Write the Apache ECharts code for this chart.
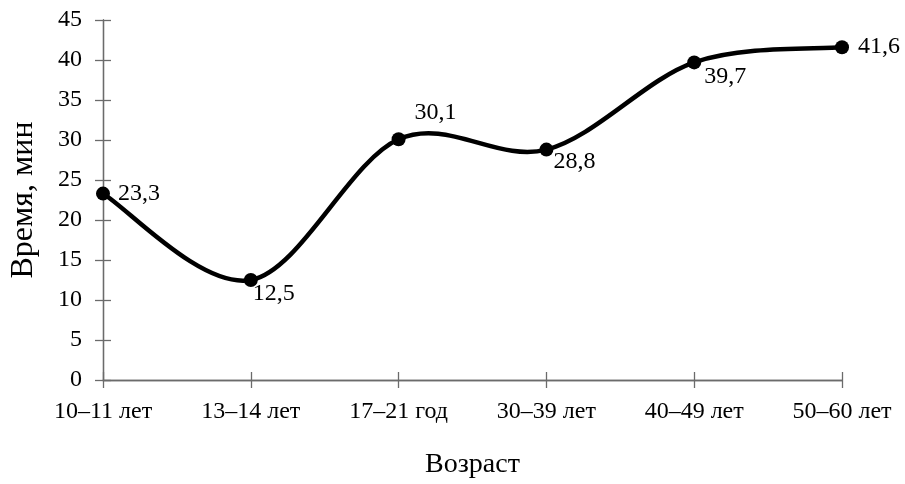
<!DOCTYPE html>
<html>
<head>
<meta charset="utf-8">
<script src="https://cdn.jsdelivr.net/npm/echarts@6/dist/echarts.min.js"></script>
<style>
  html, body { margin: 0; padding: 0; background: #fff; }
  #chart { width: 905px; height: 484px; }
</style>
</head>
<body>
<div id="chart"></div>
<script>
// Age groups and average time (minutes)
const categories = ['10–11 лет', '13–14 лет', '17–21 год', '30–39 лет', '40–49 лет', '50–60 лет'];
const values = [23.3, 12.5, 30.1, 28.8, 39.7, 41.6];
const yTicks = { min: 0, max: 45, interval: 5 };

// Per-point label placement around the markers
const labelOffsets = [[3, 0], [-10, 14], [4, -26], [-5, 12], [-2, 14], [4, 0]];

const FONT = '"Liberation Serif", "Times New Roman", serif';
const AXIS_COLOR = '#6b6b6b';

const chart = echarts.init(document.getElementById('chart'), null, { renderer: 'canvas' });

const baseX = {
  type: 'category',
  data: categories,
  boundaryGap: false,
  axisLine: { lineStyle: { color: AXIS_COLOR, width: 1.3 } },
  axisTick: { alignWithLabel: true, length: 8, lineStyle: { color: AXIS_COLOR, width: 1.3 } },
  splitLine: { show: false }
};
const baseY = {
  type: 'value',
  min: yTicks.min,
  max: yTicks.max,
  interval: yTicks.interval,
  axisLine: { show: true, lineStyle: { color: AXIS_COLOR, width: 1.3 } },
  axisTick: { show: true, length: 8, lineStyle: { color: AXIS_COLOR, width: 1.3 } },
  splitLine: { show: false }
};

// Smooth curve segment i -> i+1 (cardinal spline, tension 1/6 of neighbour span)
function renderSegment(params, api) {
  const i = params.dataIndex;
  if (i >= values.length - 1) return null;
  const pt = k => {
    const j = Math.max(0, Math.min(values.length - 1, k));
    return api.coord([j, values[j]]);
  };
  const p0 = pt(i - 1), p1 = pt(i), p2 = pt(i + 1), p3 = pt(i + 2);
  return {
    type: 'bezierCurve',
    shape: {
      x1: p1[0], y1: p1[1],
      x2: p2[0], y2: p2[1],
      cpx1: p1[0] + (p2[0] - p0[0]) / 6,
      cpy1: p1[1] + (p2[1] - p0[1]) / 6,
      cpx2: p2[0] - (p3[0] - p1[0]) / 6,
      cpy2: p2[1] - (p3[1] - p1[1]) / 6
    },
    style: { stroke: '#000', lineWidth: 4.5, fill: null, lineCap: 'round' }
  };
}

chart.setOption({
  animation: false,
  backgroundColor: '#fff',
  grid: { left: 103, right: 63, top: 20, bottom: 102 },
  xAxis: [
    Object.assign({}, baseX, {
      name: 'Возраст',
      nameLocation: 'middle',
      nameGap: 71,
      nameTextStyle: { fontFamily: FONT, fontSize: 28, color: '#000' },
      axisLabel: { fontFamily: FONT, fontSize: 24, color: '#000', margin: 20 }
    }),
    Object.assign({}, baseX, {
      position: 'bottom',
      axisTick: Object.assign({}, baseX.axisTick, { inside: true }),
      axisLabel: { show: false }
    })
  ],
  yAxis: [
    Object.assign({}, baseY, {
      name: 'Время, мин',
      nameLocation: 'middle',
      nameGap: 63,
      nameRotate: 90,
      nameTextStyle: { fontFamily: FONT, fontSize: 32, color: '#000' },
      axisLabel: { fontFamily: FONT, fontSize: 24, color: '#000', margin: 21 }
    }),
    Object.assign({}, baseY, {
      position: 'left',
      axisTick: Object.assign({}, baseY.axisTick, { inside: true }),
      axisLabel: { show: false }
    })
  ],
  series: [
    {
      type: 'custom',
      renderItem: renderSegment,
      data: values.map((v, i) => [i, v]),
      encode: { x: 0, y: 1 },
      z: 4
    },
    {
      type: 'line',
      data: values.map((v, i) => ({
        value: v,
        label: { offset: labelOffsets[i] }
      })),
      symbol: 'circle',
      symbolSize: 14,
      lineStyle: { width: 0, opacity: 0 },
      itemStyle: { color: '#000' },
      label: {
        show: true,
        position: 'right',
        distance: 5,
        fontFamily: FONT,
        fontSize: 24,
        color: '#000',
        formatter: p => String(p.value).replace('.', ',')
      },
      z: 5
    }
  ]
});
</script>
</body>
</html>
